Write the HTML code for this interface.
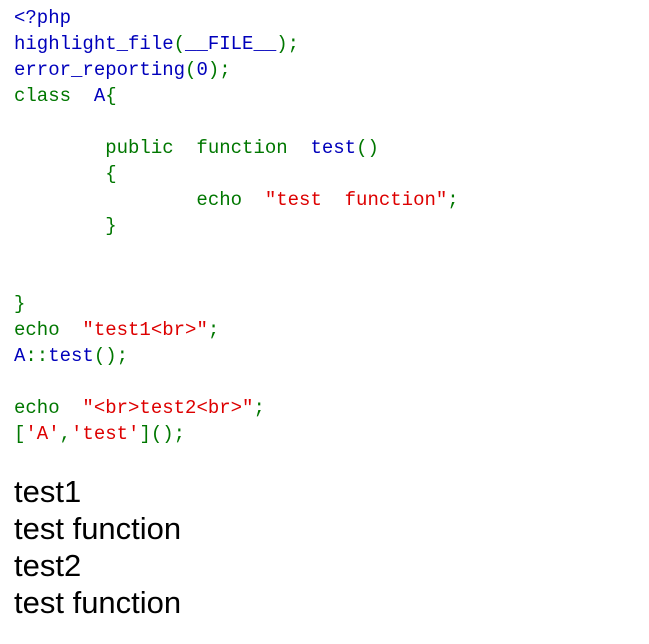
<!DOCTYPE html>
<html><head><style>
body{margin:0;background:#fff;width:649px;height:644px;overflow:hidden;position:relative}
pre{position:absolute;left:14px;top:5px;margin:0;font-family:"Liberation Mono","Noto Sans CJK SC",monospace;font-size:19px;line-height:26px;color:#0000BB}
.g{color:#007700}.r{color:#DD0000}
.out{position:absolute;left:14px;top:473px;font-family:"Liberation Sans",sans-serif;font-size:31px;line-height:37px;color:#000}
</style></head><body>
<pre>&lt;?php
highlight_file<span class="g">(</span>__FILE__<span class="g">);</span>
error_reporting<span class="g">(</span>0<span class="g">);</span>
<span class="g">class  </span>A<span class="g">{</span>

<span class="g">        public  function  </span>test<span class="g">()</span>
<span class="g">        {</span>
<span class="g">                echo  </span><span class="r">"test  function"</span><span class="g">;</span>
<span class="g">        }</span>


<span class="g">}</span>
<span class="g">echo  </span><span class="r">"test1&lt;br&gt;"</span><span class="g">;</span>
A<span class="g">::</span>test<span class="g">();</span>

<span class="g">echo  </span><span class="r">"&lt;br&gt;test2&lt;br&gt;"</span><span class="g">;</span>
<span class="g">[</span><span class="r">'A'</span><span class="g">,</span><span class="r">'test'</span><span class="g">]();</span></pre>
<div class="out">test1<br>test function<br>test2<br>test function</div>
</body></html>
